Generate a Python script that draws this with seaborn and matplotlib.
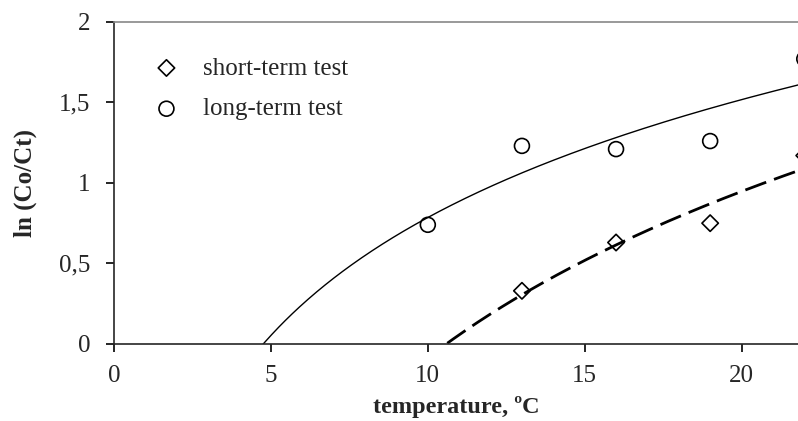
import numpy as np
import pandas as pd
import matplotlib
matplotlib.use('Agg')
import matplotlib.pyplot as plt
import seaborn as sns

# data
temp_short = [13, 16, 19, 22]
lnc_short = [0.33, 0.63, 0.75, 1.17]
temp_long = [10, 13, 16, 19, 22]
lnc_long = [0.74, 1.23, 1.21, 1.26, 1.77]

sns.set_style('ticks')
plt.rcParams['font.family'] = ['Liberation Serif', 'DejaVu Serif']

df_short = pd.DataFrame({'t': temp_short, 'y': lnc_short})
df_long = pd.DataFrame({'t': temp_long, 'y': lnc_long})

# logarithmic trendlines
def log_fit(x, y):
    a, b = np.polyfit(np.log(x), y, 1)
    xs = np.linspace(1, 23, 400)
    return pd.DataFrame({'t': xs, 'y': a * np.log(xs) + b})

fit_short = log_fit(temp_short, lnc_short)
fit_long = log_fit(temp_long, lnc_long)

fig = plt.figure(figsize=(7.98, 4.21), dpi=100)
ax = fig.add_axes([0.143, 0.183, 0.857, 0.765])

sns.lineplot(x='t', y='y', data=fit_long, color='black', lw=1.0, ax=ax)
sns.lineplot(x='t', y='y', data=fit_short, color='black', lw=2.0, ax=ax,
             dashes=False)
ax.lines[-1].set_dashes([8, 3])

sns.scatterplot(x='t', y='y', data=df_short, marker='D', s=70, facecolor='none',
                edgecolor='black', linewidth=1.2, ax=ax, clip_on=False, zorder=3,
                label='short-term test')
sns.scatterplot(x='t', y='y', data=df_long, marker='o', s=115, facecolor='none',
                edgecolor='black', linewidth=1.2, ax=ax, clip_on=False, zorder=3,
                label='long-term test')

ax.set_xlim(0, 21.8)
ax.set_ylim(0, 2)
ax.set_xticks([0, 5, 10, 15, 20])
ax.set_yticks([0, 0.5, 1, 1.5, 2])
ax.set_yticklabels(['0', '0,5', '1', '1,5', '2'])
ax.tick_params(labelsize=18, length=6, width=1.2, color='black')
ax.tick_params(axis='x', pad=9)
ax.tick_params(axis='y', pad=11)

ax.spines['right'].set_visible(False)
ax.spines['top'].set_color('#888888')
ax.spines['top'].set_linewidth(1.2)
ax.spines['left'].set_linewidth(1.2)
ax.spines['bottom'].set_linewidth(1.2)

ax.set_xlabel('temperature, ºC', fontsize=17.5, fontweight='bold', labelpad=6.5)
ax.set_ylabel('ln (Co/Ct)', fontsize=18, fontweight='bold', labelpad=16)

ax.legend(loc='upper left', frameon=False, fontsize=18, handlelength=1.8,
          handletextpad=0.57, borderaxespad=0, bbox_to_anchor=(0.029, 0.922),
          labelspacing=0.73)

plt.savefig('out.png', dpi=100)
